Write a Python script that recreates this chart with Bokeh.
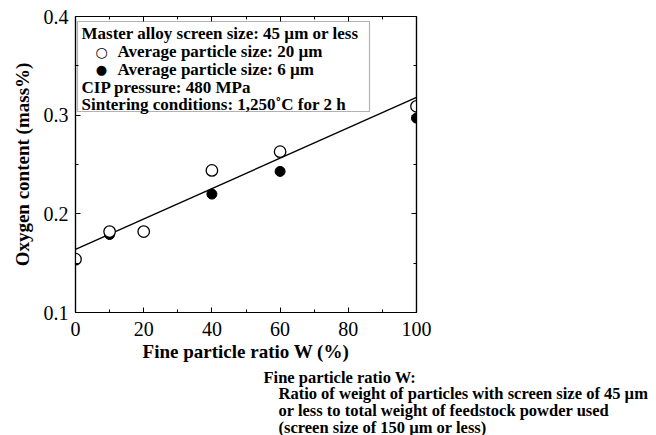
from bokeh.plotting import figure
from bokeh.models import (LinearAxis, Label, BoxAnnotation, FixedTicker, Range1d,
                          CustomJSTickFormatter)
from bokeh.embed import file_html
from bokeh.resources import INLINE

# ---- data ----
w_open = [0, 10, 20, 40, 60, 100]
o_open = [0.154, 0.182, 0.182, 0.244, 0.263, 0.309]
w_fill = [10, 40, 60, 100]
o_fill = [0.179, 0.220, 0.243, 0.297]
fit_w = [0, 100]
fit_o = [0.164, 0.318]

x_ticks = [0, 20, 40, 60, 80, 100]
x_minor = [10, 30, 50, 70, 90]
y_ticks = [0.1, 0.2, 0.3, 0.4]
y_minor = [0.15, 0.25, 0.35]

legend_lines = [
    "Master alloy screen size: 45 \u00b5m or less",
    "Average particle size: 20 \u00b5m",
    "Average particle size: 6 \u00b5m",
    "CIP pressure: 480 MPa",
    "Sintering conditions: 1,250\u02daC for 2 h",
]
note_lines = [
    "Fine particle ratio W:",
    "Ratio of weight of particles with screen size of 45 \u00b5m",
    "or less to total weight of feedstock powder used",
    "(screen size of 150 \u00b5m or less)",
]

SERIF = "Liberation Serif"

p = figure(width=656, height=364, output_backend="svg", toolbar_location=None,
           x_range=Range1d(0, 100), y_range=Range1d(0.1, 0.4),
           min_border_left=75, min_border_right=240, min_border_top=16,
           min_border_bottom=52, x_axis_location=None, y_axis_location=None)
p.grid.visible = False
p.outline_line_color = "black"
p.outline_line_width = 1.2
p.background_fill_color = "white"
p.border_fill_color = "white"

def style_axis(ax, labels=True):
    ax.axis_line_color = "black"
    ax.axis_line_width = 1.2
    ax.major_tick_in = 5
    ax.major_tick_out = 0
    ax.minor_tick_in = 3
    ax.minor_tick_out = 0
    ax.major_tick_line_color = "black"
    ax.minor_tick_line_color = "black"
    ax.major_label_text_font = SERIF
    ax.major_label_text_font_size = "20px"
    ax.major_label_text_color = "black"
    ax.axis_label_text_color = "black"
    ax.axis_label_text_font = SERIF
    ax.axis_label_text_font_style = "bold"
    ax.axis_label_text_font_size = "19px"
    if not labels:
        ax.formatter = CustomJSTickFormatter(code="return ''")
        ax.major_label_standoff = 0

xb = LinearAxis(ticker=FixedTicker(ticks=x_ticks, minor_ticks=x_minor),
                axis_label="Fine particle ratio W (%)")
style_axis(xb)
xb.major_label_standoff = 9
xb.axis_label_standoff = 2
p.add_layout(xb, "below")

yl = LinearAxis(ticker=FixedTicker(ticks=y_ticks, minor_ticks=y_minor),
                axis_label="Oxygen content (mass%)")
style_axis(yl)
yl.major_label_standoff = 7
yl.axis_label_standoff = 8
p.add_layout(yl, "left")

xt = LinearAxis(ticker=FixedTicker(ticks=x_ticks, minor_ticks=x_minor))
style_axis(xt, labels=False)
p.add_layout(xt, "above")
yr = LinearAxis(ticker=FixedTicker(ticks=y_ticks, minor_ticks=y_minor))
style_axis(yr, labels=False)
p.add_layout(yr, "right")

# legend box (canvas pixels)
p.add_layout(BoxAnnotation(left=77, right=369, top=21, bottom=111,
                           left_units="canvas", right_units="canvas",
                           top_units="canvas", bottom_units="canvas",
                           fill_color="white", fill_alpha=1.0,
                           line_color="black", line_width=1.2, level="underlay"))

# fit line
p.line(fit_w, fit_o, line_color="black", line_width=1.4)

# data points
p.scatter(w_fill, o_fill, size=10, marker="circle", fill_color="black",
          line_color="black", line_width=1)
p.scatter(w_open, o_open, size=11.5, marker="circle", fill_color="white",
          line_color="black", line_width=1.3)

leg_y = [33, 51, 69, 87, 104]
leg_x = [81, 117, 117, 81, 81]
for txt, xx, yy in zip(legend_lines, leg_x, leg_y):
    p.add_layout(Label(x=xx, y=yy, x_units="canvas", y_units="canvas", text=txt,
                       text_font=SERIF, text_font_style="bold",
                       text_font_size="17px", text_baseline="middle", text_color="black"))
p.add_layout(Label(x=101, y=51, x_units="canvas", y_units="canvas", text="\u25cb",
                   text_font="DejaVu Sans", text_font_size="14px", text_align="center",
                   text_baseline="middle", text_color="black"))
p.add_layout(Label(x=101, y=69, x_units="canvas", y_units="canvas", text="\u25cf",
                   text_font="DejaVu Sans", text_font_size="13px", text_align="center",
                   text_baseline="middle", text_color="black"))

# note panel below the chart (separate root, so its frame is the whole canvas)
n = figure(width=656, height=71, output_backend="svg", toolbar_location=None,
           x_range=Range1d(0, 1), y_range=Range1d(0, 1), min_border=0,
           x_axis_location=None, y_axis_location=None)
n.grid.visible = False
n.outline_line_color = None
n.background_fill_color = "white"
n.border_fill_color = "white"
note_x = [263, 278, 278, 278]
note_y = [13, 29, 46, 63]
for txt, xx, yy in zip(note_lines, note_x, note_y):
    n.add_layout(Label(x=xx, y=yy, x_units="canvas", y_units="canvas", text=txt,
                       text_font=SERIF, text_font_style="bold",
                       text_font_size="16.5px", text_baseline="middle", text_color="black"))

open("out.html", "w").write(file_html([p, n], INLINE))
